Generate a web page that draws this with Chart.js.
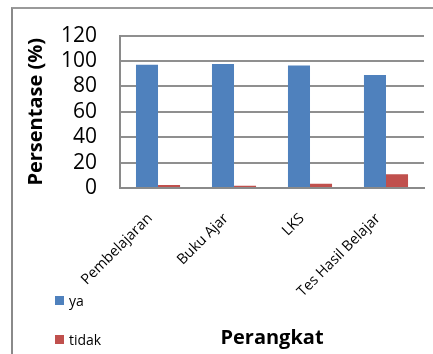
<!DOCTYPE html>
<html>
<head>
<meta charset="utf-8">
<script src="https://cdn.jsdelivr.net/npm/chart.js@4/dist/chart.umd.min.js"></script>
<style>
  html, body { margin: 0; padding: 0; background: #ffffff; }
  #wrap { position: relative; width: 433px; height: 354px; overflow: hidden; }
  #frame { position: absolute; left: 11px; top: 7px; width: 430px; height: 360px;
           border-left: 2px solid #8a8a8a; border-top: 2px solid #9a9a9a; }
  #c { position: absolute; left: 0; top: 0; }
  #legend { position: absolute; left: 55px; top: 292px; font-family: 'Open Sans', sans-serif;
            font-size: 14px; color: #000; }
  .li { display: flex; align-items: center; height: 16px; margin-bottom: 23px; }
  .sw { width: 9px; height: 9px; margin-right: 5px; }
</style>
</head>
<body>
<div id="wrap">
  <div id="frame"></div>
  <canvas id="c" width="433" height="354"></canvas>
  <div id="legend"></div>
</div>
<script>
const categories = ['Pembelajaran', 'Buku Ajar', 'LKS', 'Tes Hasil Belajar'];
const seriesNames = ['ya', 'tidak'];
const yaValues = [97, 97.6, 96.5, 89];
const tidakValues = [2.4, 1.7, 3.3, 10.8];
const yTicks = [0, 20, 40, 60, 80, 100, 120];
const colors = ['#4f81bd', '#c0504d'];

const datasets = [
  { label: seriesNames[0], data: yaValues, backgroundColor: colors[0] },
  { label: seriesNames[1], data: tidakValues, backgroundColor: colors[1] }
];

const legend = document.getElementById('legend');
datasets.forEach(ds => {
  const row = document.createElement('div');
  row.className = 'li';
  const sw = document.createElement('span');
  sw.className = 'sw';
  sw.style.background = ds.backgroundColor;
  const t = document.createElement('span');
  t.textContent = ds.label;
  row.appendChild(sw); row.appendChild(t);
  legend.appendChild(row);
});

const font = "'Open Sans', sans-serif";
new Chart(document.getElementById('c'), {
  type: 'bar',
  data: { labels: categories, datasets: datasets },
  options: {
    responsive: false,
    animation: false,
    layout: { padding: { left: 26, top: 26, right: 9, bottom: 4 } },
    datasets: { bar: { categoryPercentage: 0.58, barPercentage: 1.0 } },
    plugins: { legend: { display: false }, tooltip: { enabled: false } },
    scales: {
      x: {
        grid: { display: false, drawTicks: false },
        border: { display: true, color: '#8a8a8a', width: 2 },
        ticks: { color: '#000', font: { family: font, size: 14.5 }, minRotation: 45, maxRotation: 45,
                 autoSkip: false, padding: 22, labelOffset: -8 },
        title: { display: true, text: 'Perangkat', color: '#000',
                 font: { family: font, size: 20, weight: 'bold' }, padding: { top: 13, bottom: 0 } }
      },
      y: {
        min: 0, max: 120,
        afterBuildTicks: (axis) => { axis.ticks = yTicks.map(v => ({ value: v })); },
        grid: { color: '#8f8f8f', lineWidth: 2, drawTicks: false },
        border: { display: true, color: '#8a8a8a', width: 2 },
        ticks: { color: '#000', font: { family: font, size: 21 }, padding: 23, autoSkip: false },
        title: { display: true, text: 'Persentase (%)', color: '#000',
                 font: { family: font, size: 20, weight: 'bold', lineHeight: 1 }, padding: { top: 0, bottom: -8 } }
      }
    }
  }
});
</script>
</body>
</html>
